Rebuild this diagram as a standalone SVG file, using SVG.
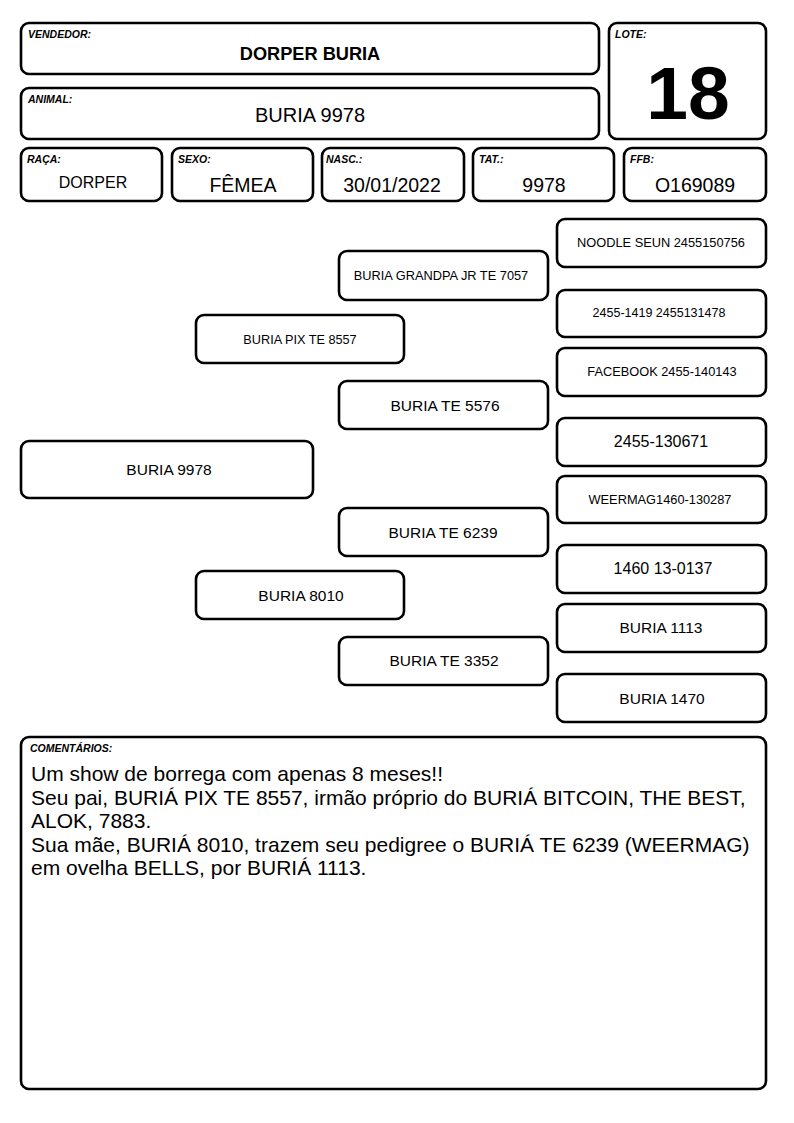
<svg xmlns="http://www.w3.org/2000/svg" width="794" height="1123" viewBox="0 0 794 1123">
<style>
.b{fill:#fff;stroke:#000;stroke-width:2.6}
text{font-family:"Liberation Sans",Arial,sans-serif;fill:#000}
.l{font-size:10.5px;font-weight:bold;font-style:italic}
.c{text-anchor:middle}
.p{text-anchor:middle;font-size:15.5px}
.s{text-anchor:middle;font-size:12.8px}
.v{text-anchor:middle;font-size:19.5px}
.m{font-size:21px}
</style>
<rect width="794" height="1123" fill="#fff"/>
<g id="vendedor"><rect class="b" x="21" y="23" width="578" height="51" rx="8"/><text class="l" x="28" y="38">VENDEDOR:</text><text class="c" x="310" y="60" font-size="18.2" font-weight="bold">DORPER BURIA</text></g>
<g id="animal"><rect class="b" x="21" y="88" width="578" height="51" rx="8"/><text class="l" x="28" y="103">ANIMAL:</text><text class="c" x="310" y="122" font-size="20">BURIA 9978</text></g>
<g id="lote"><rect class="b" x="609" y="23" width="157" height="116" rx="8"/><text class="l" x="615" y="38">LOTE:</text><text class="c" x="688" y="119" font-size="75" font-weight="bold">18</text></g>
<g id="raca"><rect class="b" x="21" y="148" width="141" height="53" rx="8"/><text class="l" x="27" y="163">RAÇA:</text><text class="c" x="93" y="188" font-size="16">DORPER</text></g>
<g id="sexo"><rect class="b" x="172" y="148" width="141" height="53" rx="8"/><text class="l" x="178" y="163">SEXO:</text><text class="v" x="243" y="192">FÊMEA</text></g>
<g id="nasc"><rect class="b" x="322" y="148" width="142" height="53" rx="8"/><text class="l" x="326" y="163">NASC.:</text><text class="v" x="392" y="192">30/01/2022</text></g>
<g id="tat"><rect class="b" x="473" y="148" width="141" height="53" rx="8"/><text class="l" x="479" y="163">TAT.:</text><text class="v" x="544" y="192">9978</text></g>
<g id="ffb"><rect class="b" x="624" y="148" width="142" height="53" rx="8"/><text class="l" x="630" y="163">FFB:</text><text class="v" x="695" y="192">O169089</text></g>
<g id="connectors"></g>
<g id="n9978"><rect class="b" x="21" y="441" width="292" height="57" rx="8"/><text class="c" x="169" y="475" font-size="15.5">BURIA 9978</text></g>
<g id="n8557"><rect class="b" x="196" y="315" width="208" height="48" rx="8"/><text class="c" x="300" y="344" font-size="12.7">BURIA PIX TE 8557</text></g>
<g id="n8010"><rect class="b" x="196" y="571" width="208" height="48" rx="8"/><text class="p" x="301" y="601">BURIA 8010</text></g>
<g id="n7057"><rect class="b" x="339" y="251" width="209" height="49" rx="8"/><text class="c" x="441" y="280" font-size="12.8">BURIA GRANDPA JR TE 7057</text></g>
<g id="n5576"><rect class="b" x="339" y="381" width="209" height="48" rx="8"/><text class="p" x="445" y="411">BURIA TE 5576</text></g>
<g id="n6239"><rect class="b" x="339" y="508" width="209" height="48" rx="8"/><text class="p" x="443" y="538">BURIA TE 6239</text></g>
<g id="n3352"><rect class="b" x="339" y="637" width="209" height="48" rx="8"/><text class="p" x="444" y="666">BURIA TE 3352</text></g>
<g id="noodle"><rect class="b" x="557" y="219" width="209" height="48" rx="8"/><text class="s" x="661" y="247">NOODLE SEUN 2455150756</text></g>
<g id="n2455a"><rect class="b" x="557" y="290" width="209" height="47" rx="8"/><text class="c" x="659" y="317" font-size="12.5">2455-1419 2455131478</text></g>
<g id="facebook"><rect class="b" x="557" y="348" width="209" height="48" rx="8"/><text class="s" x="662" y="376">FACEBOOK 2455-140143</text></g>
<g id="n130671"><rect class="b" x="557" y="418" width="209" height="48" rx="8"/><text class="c" x="661" y="447" font-size="16">2455-130671</text></g>
<g id="weermag"><rect class="b" x="557" y="476" width="209" height="47" rx="8"/><text class="s" x="660" y="504">WEERMAG1460-130287</text></g>
<g id="n1460"><rect class="b" x="557" y="545" width="209" height="48" rx="8"/><text class="c" x="663" y="574" font-size="16">1460 13-0137</text></g>
<g id="n1113"><rect class="b" x="557" y="604" width="209" height="48" rx="8"/><text class="p" x="661" y="633">BURIA 1113</text></g>
<g id="n1470"><rect class="b" x="557" y="674" width="209" height="48" rx="8"/><text class="p" x="662" y="704">BURIA 1470</text></g>
<g id="comentarios"><rect class="b" x="21" y="737" width="745" height="352" rx="8"/><text class="l" x="30" y="752">COMENTÁRIOS:</text>
<text class="m" x="31" y="781">Um show de borrega com apenas 8 meses!!</text>
<text class="m" x="31" y="805">Seu pai, BURIÁ PIX TE 8557, irmão próprio do BURIÁ BITCOIN, THE BEST,</text>
<text class="m" x="31" y="828">ALOK, 7883.</text>
<text class="m" x="31" y="852">Sua mãe, BURIÁ 8010, trazem seu pedigree o BURIÁ TE 6239 (WEERMAG)</text>
<text class="m" x="31" y="875">em ovelha BELLS, por BURIÁ 1113.</text>
</g>
</svg>
